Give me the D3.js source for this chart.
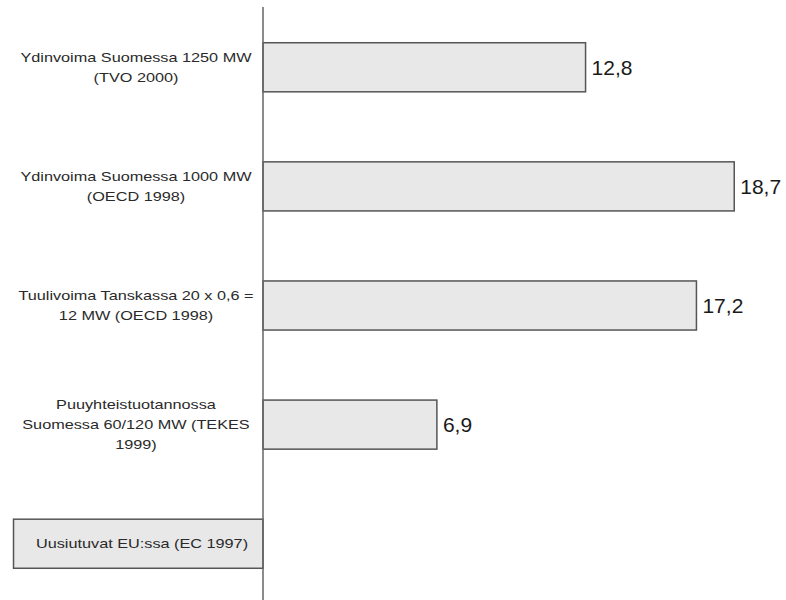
<!DOCTYPE html>
<html>
<head>
<meta charset="utf-8">
<script src="https://cdn.jsdelivr.net/npm/d3@7"></script>
<style>
  html, body { margin: 0; padding: 0; background: #fff; }
  svg { display: block; }
  text { font-family: "Liberation Sans", Arial, sans-serif; }
</style>
</head>
<body>
<svg id="chart" width="786" height="600"></svg>
<script>
// Sähkön tuotantokustannukset (value per source)
const categories = [
  "Ydinvoima Suomessa 1250 MW (TVO 2000)",
  "Ydinvoima Suomessa 1000 MW (OECD 1998)",
  "Tuulivoima Tanskassa 20 x 0,6 = 12 MW (OECD 1998)",
  "Puuyhteistuotannossa Suomessa 60/120 MW (TEKES 1999)",
  "Uusiutuvat EU:ssa (EC 1997)"
];
// Category labels as they wrap on the chart
const labelLines = [
  ["Ydinvoima Suomessa 1250 MW", "(TVO 2000)"],
  ["Ydinvoima Suomessa 1000 MW", "(OECD 1998)"],
  ["Tuulivoima Tanskassa 20 x 0,6 =", "12 MW (OECD 1998)"],
  ["Puuyhteistuotannossa", "Suomessa 60/120 MW (TEKES", "1999)"],
  ["Uusiutuvat EU:ssa (EC 1997)"]
];
const values = [12.8, 18.7, 17.2, 6.9, -9.9];
const valueLabels = ["12,8", "18,7", "17,2", "6,9", ""];

const svg = d3.select("#chart");

const x = d3.scaleLinear().domain([-10, 20]).range([11, 767]);
const y = d3.scaleBand()
  .domain(categories)
  .range([7, 604])
  .paddingInner(0.588)
  .paddingOuter(0.3);

const labelX = 136;
const lineH = 20;
const labelFont = 13;
const labelStretch = 1.25;

// Category label: wide, centred text block
function drawLabel(g, i, dx) {
  const lines = labelLines[i];
  const cy = y(categories[i]) + y.bandwidth() / 2;
  const t = g.append("text")
    .attr("transform", `translate(${labelX + dx},0) scale(${labelStretch},1)`)
    .attr("text-anchor", "middle")
    .attr("font-size", labelFont)
    .attr("fill", "#2a2a2a");
  lines.forEach((ln, j) => {
    t.append("tspan")
      .attr("x", 0)
      .attr("y", cy + (j - (lines.length - 1) / 2) * lineH)
      .attr("dy", "0.35em")
      .text(ln);
  });
}

const lab = svg.append("g").attr("class", "cat-labels");
for (let i = 0; i < 4; i++) drawLabel(lab, i, 0);

// Bars drawn from zero
svg.append("g").attr("class", "bars")
  .selectAll("rect")
  .data(categories)
  .join("rect")
  .attr("x", (d, i) => Math.min(x(0), x(values[i])))
  .attr("y", d => y(d))
  .attr("width", (d, i) => Math.abs(x(values[i]) - x(0)))
  .attr("height", y.bandwidth())
  .attr("fill", "#e8e8e8")
  .attr("stroke", "#555")
  .attr("stroke-width", 1.5);

// Label of the negative bar sits on top of it
drawLabel(svg.append("g"), 4, 6);

// Value labels at bar ends
svg.append("g").attr("class", "values")
  .selectAll("text")
  .data(categories)
  .join("text")
  .attr("x", (d, i) => x(values[i]) + 6)
  .attr("y", d => y(d) + y.bandwidth() / 2)
  .attr("dy", "0.35em")
  .attr("font-size", 21)
  .attr("fill", "#1a1a1a")
  .text((d, i) => valueLabels[i]);

// Zero axis line
svg.append("line")
  .attr("x1", x(0)).attr("x2", x(0))
  .attr("y1", 7).attr("y2", 600)
  .attr("stroke", "#666")
  .attr("stroke-width", 1.5);
</script>
</body>
</html>
